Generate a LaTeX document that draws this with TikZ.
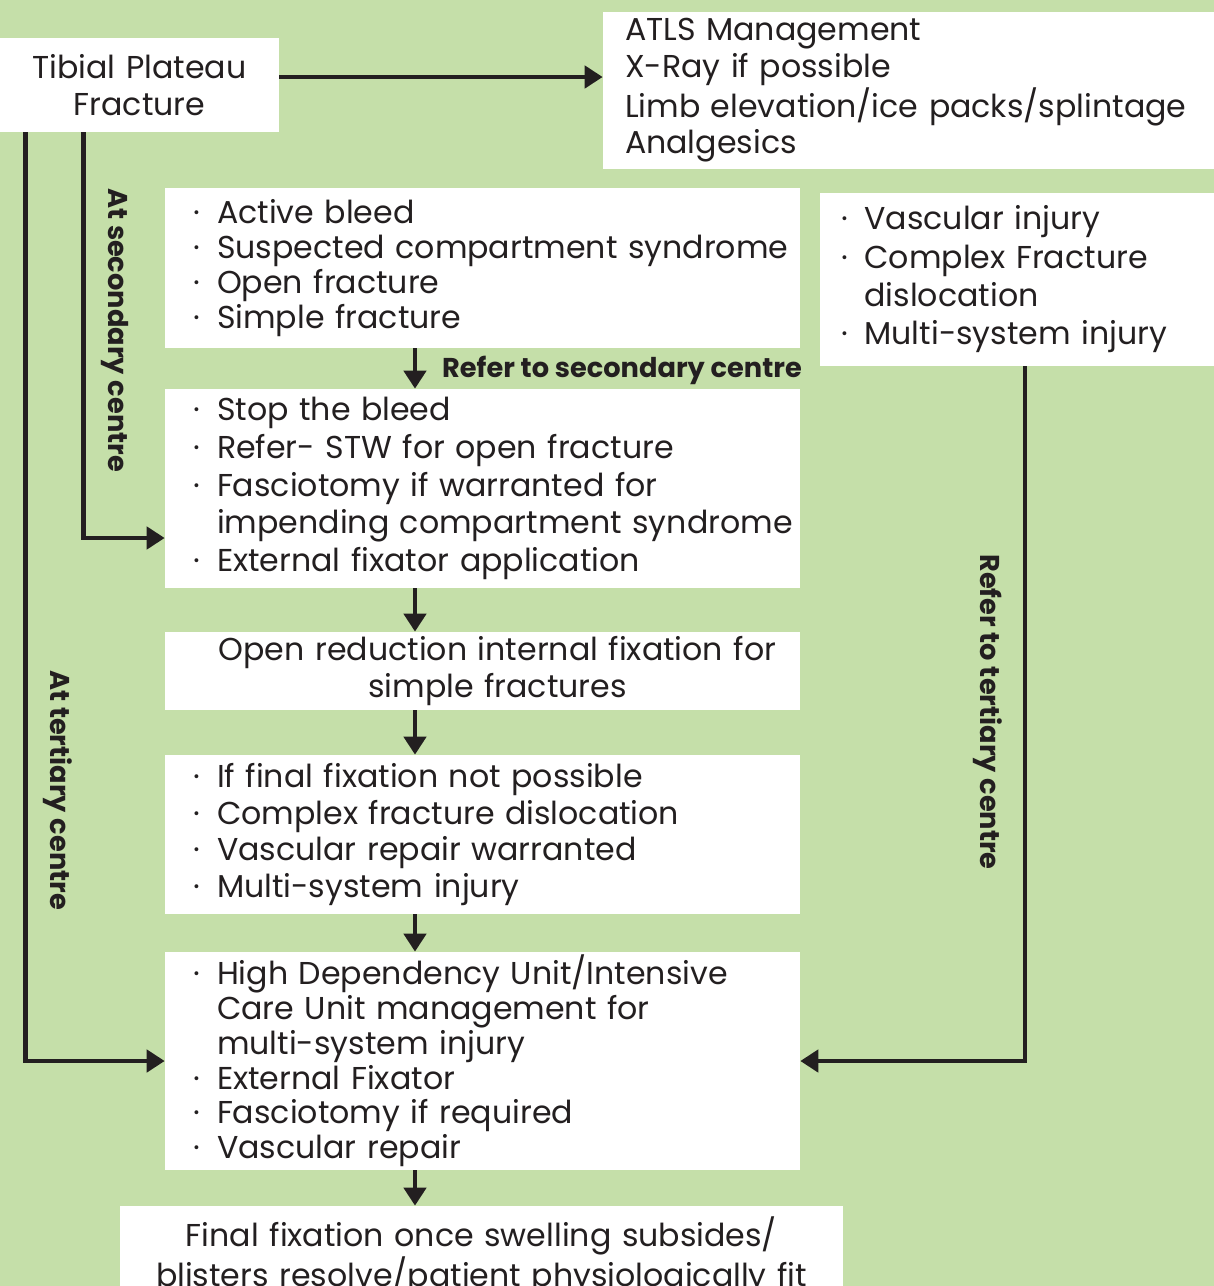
\documentclass[tikz,border=0pt]{standalone}
\usepackage{fontspec}
\setmainfont{Poppins}
\usetikzlibrary{arrows.meta}
\definecolor{leaf}{HTML}{C5DFA9}
\definecolor{ink}{HTML}{231F20}
\hyphenpenalty=10000
\exhyphenpenalty=10000
\newcommand{\itm}{\makebox[0.89cm][l]{\hspace{0.42cm}·}}
\newcommand{\cont}{\hspace*{0.89cm}}
\tikzset{
  box/.style={fill=white, inner xsep=0.15cm, inner ysep=0pt, align=left, text=ink,
    font=\fontsize{18}{20.8}\selectfont},
  lead/.style={font=\fontsize{18}{#1}\selectfont},
  arr/.style={draw=ink, line width=2.8pt, -{Triangle[length=0.36cm,width=0.44cm]}},
  lbl/.style={text=ink, font=\bfseries\fontsize{15.5}{17}\selectfont},
}
\begin{document}
\begin{tikzpicture}[x=0.02cm, y=-0.02cm]
%%%% Background:
\fill[leaf] (0,0) rectangle (1214,1286);
\useasboundingbox (0,0) rectangle (1214,1286);
%%%% Top row
\node[box, align=center, text width=5.28cm, minimum height=1.88cm] (tpf) at (139.5,85) {Tibial Plateau\\Fracture};
\node[box, inner xsep=0.44cm, text width=11.66cm, minimum height=3.14cm] (atls) at (916.5,90.5)
  {ATLS Management\\X-Ray if possible\\Limb elevation/ice packs/splintage\\Analgesics};
%%%% Middle column
\node[box, lead=19.9pt, text width=12.4cm, minimum height=3.2cm] (signs) at (482.5,268)
  {\itm Active bleed\\\itm \mbox{Suspected compartment syndrome}\\\itm Open fracture\\\itm Simple fracture};
\node[box, lead=21.4pt, text width=12.4cm, minimum height=3.98cm] (early) at (482.5,488.5)
  {\itm Stop the bleed\\\itm Refer- STW for open fracture\\\itm Fasciotomy if warranted for\\\cont \mbox{impending compartment syndrome}\\\itm External fixator application};
\node[box, align=center, text width=12.4cm, minimum height=1.56cm] (orif) at (482.5,671)
  {\hspace*{0.6cm}Open reduction internal fixation for\\\hspace*{0.6cm}simple fractures};
\node[box, text width=12.4cm, minimum height=3.18cm] (fail) at (482.5,834.5)
  {\itm If final fixation not possible\\\itm Complex fracture dislocation\\\itm Vascular repair warranted\\\itm Multi-system injury};
\node[box, lead=19.8pt, text width=12.4cm, minimum height=4.36cm] (icu) at (482.5,1061)
  {\itm High Dependency Unit/Intensive\\\cont Care Unit management for\\\cont multi-system injury\\\itm External Fixator\\\itm Fasciotomy if required\\\itm Vascular repair};
\node[box, align=center, text width=14.16cm, minimum height=2cm] (final) at (481.5,1256)
  {Final fixation once swelling subsides/\\blisters resolve/patient physiologically fit};
%%%% Right box
\node[box, lead=21.8pt, inner xsep=0cm, text width=8.2cm, minimum height=3.46cm] (severe) at (1025,279.5)
  {\itm Vascular injury\\\itm Complex Fracture\\\cont dislocation\\\itm Multi-system injury};
%%%% Arrows
\coordinate (mid) at (415,0);
\draw[arr] ([yshift=0.16cm]tpf.east) -- ([yshift=0.16cm]tpf.east -| atls.west);
\draw[arr] (signs.south -| mid) -- (early.north -| mid);
\draw[arr] (early.south -| mid) -- (orif.north -| mid);
\draw[arr] (orif.south -| mid) -- (fail.north -| mid);
\draw[arr] (fail.south -| mid) -- (icu.north -| mid);
\draw[arr] (icu.south -| mid) -- (final.north -| mid);
\draw[arr] ([xshift=0.52cm]tpf.south west) |- (icu.west);
\draw[arr] ([xshift=1.68cm]tpf.south west) |- ([yshift=-0.99cm]early.west);
\draw[arr] (severe.south) |- (icu.east);
%%%% Labels
\node[lbl, anchor=west] (refsec) at (436,370) {Refer to secondary centre};
\node[lbl, rotate=-90] (atsec) at (115,330) {At secondary centre};
\node[lbl, rotate=-90] (atter) at (58,790) {At tertiary centre};
\node[lbl, rotate=-90] (refter) at (988,712) {Refer to tertiary centre};
\end{tikzpicture}
\end{document}
